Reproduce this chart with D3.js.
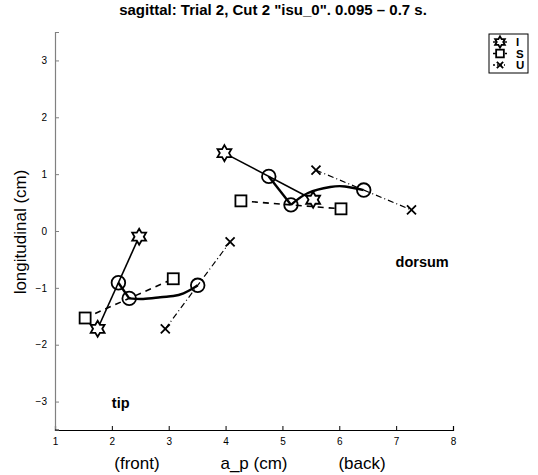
<!DOCTYPE html>
<html><head><meta charset="utf-8">
<script src="https://cdn.jsdelivr.net/npm/d3@7"></script>
<style>body{margin:0;background:#fff}svg{display:block}text{font-family:"Liberation Sans",Arial,sans-serif}</style>
</head><body><svg id="c" width="538" height="475"></svg>
<script>
const xTicks = [1,2,3,4,5,6,7,8];
const yTicks = [-3,-2,-1,0,1,2,3];
const seriesNames = ["I","S","U"];
// sensor segments: [start, end] as [a_p, longitudinal]
const tipI = [[1.75,-1.72],[2.48,-0.10]];
const tipS = [[1.53,-1.53],[3.08,-0.84]];
const tipU = [[2.94,-1.72],[4.08,-0.19]];
const dorsumI = [[3.98,1.37],[5.54,0.55]];
const dorsumS = [[4.27,0.53],[6.03,0.39]];
const dorsumU = [[5.59,1.07],[7.27,0.37]];
// midpoint trajectory samples between S and U midpoints
const tipPath = [[2.55,-1.196],[2.85,-1.166],[3.08,-1.143],[3.26,-1.096],[3.43,-1.008]];
const dorsumPath = [[5.45,0.668],[5.84,0.774],[6.10,0.783]];
const annotations = [{t:"tip",x:2.0,y:-3.12},{t:"dorsum",x:6.99,y:-0.63}];

const svg = d3.select("#c");
const L=55,R=453,T=32,B=430;
const x = d3.scaleLinear().domain([1,8]).range([L,R]);
const y = d3.scaleLinear().domain([-3.5,3.5]).range([B,T]);

// axes
const xa = svg.append("g").attr("transform",`translate(0,${B})`)
  .call(d3.axisBottom(x).tickValues(xTicks).tickSize(-4).tickPadding(8).tickFormat(d3.format("d")));
xa.select(".domain").attr("stroke","#000").attr("stroke-width",1.2);
xa.selectAll(".tick line").attr("stroke","#000");
xa.selectAll("text").attr("font-size",10).attr("fill","#000");
const ya = svg.append("g").attr("transform",`translate(${L},0)`)
  .call(d3.axisLeft(y).tickValues(yTicks).tickSize(-4).tickPadding(8).tickFormat(d=>d<0?"\u2212"+(-d):d));
ya.select(".domain").attr("stroke","#808080").attr("stroke-width",1.2);
ya.selectAll(".tick line").attr("stroke","#808080");
ya.selectAll("text").attr("font-size",10).attr("fill","#000");
svg.append("line").attr("x1",L).attr("x2",L+4).attr("y1",B).attr("y2",B).attr("stroke","#000");

svg.append("text").attr("x",273).attr("y",15).attr("text-anchor","middle").attr("font-size",15).attr("font-weight","bold").text('sagittal: Trial 2, Cut 2 "isu_0". 0.095 \u2013 0.7 s.');
svg.append("text").attr("transform","translate(26,232) rotate(-90)").attr("text-anchor","middle").attr("font-size",17).text("longitudinal (cm)");
svg.append("text").attr("x",137).attr("y",469).attr("text-anchor","middle").attr("font-size",17).text("(front)");
svg.append("text").attr("x",254).attr("y",469).attr("text-anchor","middle").attr("font-size",17).text("a_p (cm)");
svg.append("text").attr("x",362).attr("y",469).attr("text-anchor","middle").attr("font-size",17).text("(back)");

const styles = {I:{dash:null,w:1.6,c:"#000"},S:{dash:"6,5",w:1.6,c:"#000"},U:{dash:"6,3,1,3",w:1.2,c:"#000"}};
const line = d3.line().x(d=>x(d[0])).y(d=>y(d[1]));
const curve = d3.line().x(d=>x(d[0])).y(d=>y(d[1])).curve(d3.curveNatural);
const groupsData = [{I:tipI,S:tipS,U:tipU,path:tipPath},{I:dorsumI,S:dorsumS,U:dorsumU,path:dorsumPath}];
const mid = s=>[(s[0][0]+s[1][0])/2,(s[0][1]+s[1][1])/2];

function hexagram(r){
  const pts=[];
  for(let i=0;i<12;i++){const a=-Math.PI/2+i*Math.PI/6;const rr=i%2?r/Math.sqrt(3):r;pts.push([rr*Math.cos(a),rr*Math.sin(a)]);}
  return "M"+pts.map(p=>p.join(",")).join("L")+"Z";
}
function marker(g,name,cx,cy,k){
  k=k||1;
  if(name==="I") g.append("path").attr("d",hexagram(8*k)).attr("transform",`translate(${cx},${cy})`).attr("fill","#fff").attr("stroke","#000").attr("stroke-width",1.8);
  else if(name==="S") g.append("rect").attr("x",cx-5.5*k).attr("y",cy-5.5*k).attr("width",11*k).attr("height",11*k).attr("fill","#fff").attr("stroke","#000").attr("stroke-width",1.8);
  else { const s=4.5*k; g.append("path").attr("d",`M${cx-s},${cy-s}L${cx+s},${cy+s}M${cx-s},${cy+s}L${cx+s},${cy-s}`).attr("stroke","#000").attr("stroke-width",1.8).attr("fill","none"); }
}

const plot = svg.append("g");
groupsData.forEach(g=>{
  seriesNames.forEach(n=>{
    const st=styles[n];
    plot.append("path").attr("d",line(g[n])).attr("fill","none").attr("stroke",st.c).attr("stroke-width",st.w).attr("stroke-dasharray",st.dash);
  });
});
groupsData.forEach(g=>{
  const mI=mid(g.I), mS=mid(g.S), mU=mid(g.U);
  plot.append("path").attr("d",line([mI,mS])).attr("fill","none").attr("stroke","#000").attr("stroke-width",2.4);
  plot.append("path").attr("d",curve([mS,...g.path,mU])).attr("fill","none").attr("stroke","#000").attr("stroke-width",2.4);
  [mI,mS,mU].forEach(m=>plot.append("circle").attr("cx",x(m[0])).attr("cy",y(m[1])).attr("r",6.8).attr("fill","none").attr("stroke","#000").attr("stroke-width",1.8));
  seriesNames.forEach(n=>g[n].forEach(p=>marker(plot,n,x(p[0]),y(p[1]))));
});
annotations.forEach(a=>svg.append("text").attr("x",x(a.x)).attr("y",y(a.y)).attr("font-size",14.5).attr("font-weight","bold").text(a.t));

// legend
const lg = svg.append("g");
lg.append("rect").attr("x",489).attr("y",34).attr("width",39).attr("height",39).attr("fill","#fff").attr("stroke","#000").attr("stroke-width",1);
seriesNames.forEach((n,i)=>{
  const cy=42+i*11.5, cx=500;
  lg.append("line").attr("x1",cx-7).attr("x2",cx+7).attr("y1",cy).attr("y2",cy).attr("stroke","#000").attr("stroke-width",1.4).attr("stroke-dasharray",n==="S"?"3,3":(n==="U"?"2,2,1,2":null));
  marker(lg,n,cx,cy,0.7);
  lg.append("text").attr("x",516).attr("y",cy+4).attr("font-size",11.5).attr("font-weight","bold").text(n);
});
</script></body></html>
